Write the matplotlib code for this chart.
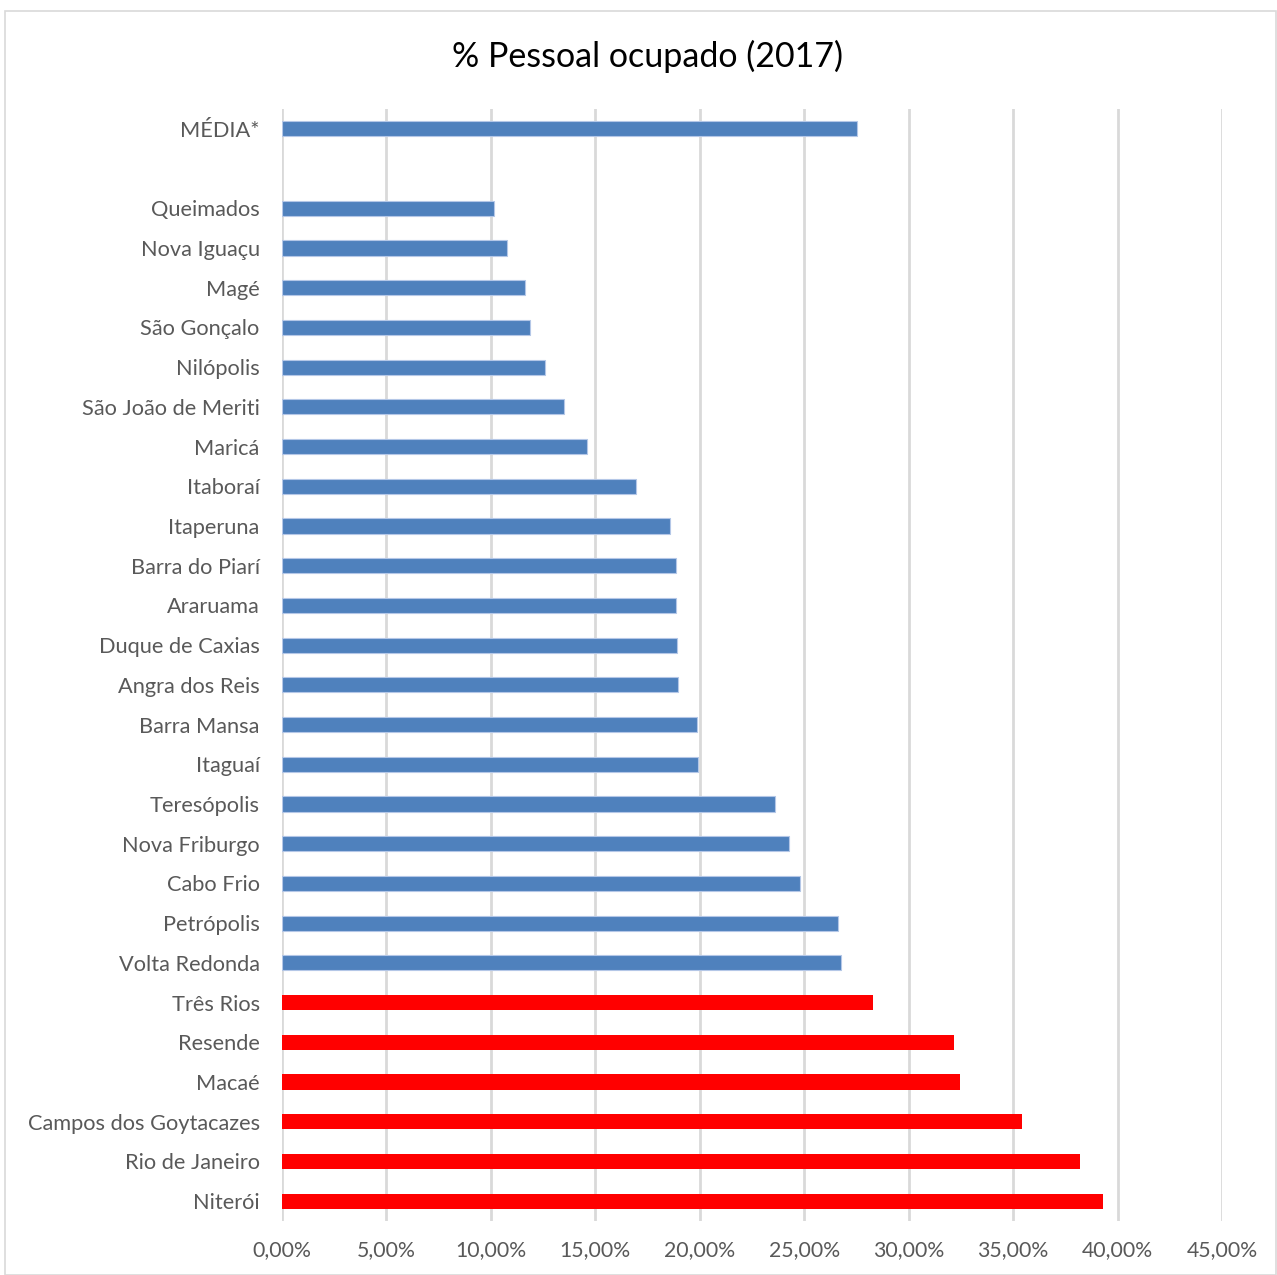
"""% Pessoal ocupado (2017) - horizontal bar chart."""

import matplotlib.pyplot as plt
from matplotlib.patches import Rectangle
from matplotlib.ticker import FuncFormatter, MultipleLocator

plt.rcParams["font.family"] = ["Lato", "DejaVu Sans"]

CATEGORIES = [
    "MÉDIA*", "",
    "Queimados", "Nova Iguaçu", "Magé", "São Gonçalo", "Nilópolis",
    "São João de Meriti", "Maricá", "Itaboraí", "Itaperuna", "Barra do Piarí",
    "Araruama", "Duque de Caxias", "Angra dos Reis", "Barra Mansa", "Itaguaí",
    "Teresópolis", "Nova Friburgo", "Cabo Frio", "Petrópolis", "Volta Redonda",
    "Três Rios", "Resende", "Macaé", "Campos dos Goytacazes", "Rio de Janeiro",
    "Niterói",
]
VALUES = [
    27.53, 0.0,
    10.15, 10.77, 11.63, 11.87, 12.59,
    13.50, 14.60, 16.95, 18.57, 18.86,
    18.86, 18.91, 18.96, 19.87, 19.91,
    23.60, 24.27, 24.80, 26.62, 26.76,
    28.29, 32.17, 32.46, 35.42, 38.20,
    39.30,
]
HIGHLIGHT = {"Três Rios", "Resende", "Macaé", "Campos dos Goytacazes",
             "Rio de Janeiro", "Niterói"}

BLUE = "#4F81BD"
RED = "#FF0000"
GRID = "#D9D9D9"
TEXT = "#595959"

fig = plt.figure(figsize=(12.77, 12.75), dpi=100)
fig.patches.append(Rectangle((0.004, 0.0), 0.995, 0.9914, transform=fig.transFigure,
                             fill=False, edgecolor=GRID, linewidth=1.2))
ax = fig.add_axes([0.2208, 0.04235, 0.7361, 0.8722])

positions = list(range(len(CATEGORIES)))
for pos, name, val in zip(positions, CATEGORIES, VALUES):
    if not name:
        continue
    if name in HIGHLIGHT:
        ax.barh(pos, val, height=0.38, color=RED, zorder=3)
    else:
        ax.barh(pos, val, height=0.38, color=BLUE, edgecolor="#B4C7E7",
                linewidth=0.8, zorder=3)

ax.set_xlim(0, 45)
ax.set_ylim(len(CATEGORIES) - 0.5, -0.5)
ax.set_yticks(positions)
ax.set_yticklabels(CATEGORIES)
ax.xaxis.set_major_locator(MultipleLocator(5))
ax.xaxis.set_major_formatter(FuncFormatter(lambda v, _: f"{v:.2f}%".replace(".", ",")))
ax.grid(axis="x", color=GRID, linewidth=2, zorder=0)
ax.tick_params(axis="y", length=0, labelsize=15.7, labelcolor=TEXT, pad=16)
ax.tick_params(axis="x", length=0, labelsize=15.3, labelcolor=TEXT, pad=14)
for side in ax.spines.values():
    side.set_visible(False)

fig.text(0.507, 0.956, "% Pessoal ocupado (2017)", ha="center", va="center",
         fontsize=24.5, color="#000000")

fig.savefig("out.png", dpi=100)
